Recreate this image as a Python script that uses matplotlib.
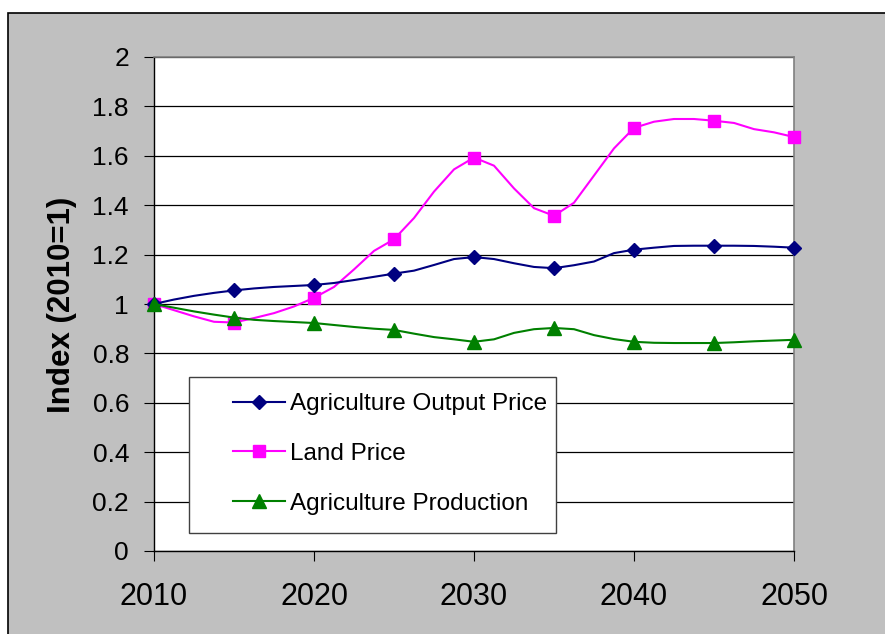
import matplotlib
matplotlib.use("Agg")
import matplotlib.pyplot as plt
from matplotlib.patches import Rectangle

plt.rcParams['font.family'] = ['Liberation Sans', 'DejaVu Sans']

# line vertices (Excel smoothed line, 4 segments per 5-year step), markers every 5 years
years = [2010, 2011.25, 2012.5, 2013.75, 2015, 2016.25, 2017.5, 2018.75,
         2020, 2021.25, 2022.5, 2023.75, 2025, 2026.25, 2027.5, 2028.75,
         2030, 2031.25, 2032.5, 2033.75, 2035, 2036.25, 2037.5, 2038.75,
         2040, 2041.25, 2042.5, 2043.75, 2045, 2046.25, 2047.5, 2048.75, 2050]

output_price = [1.000, 1.018, 1.033, 1.045, 1.055, 1.063, 1.069, 1.073,
                1.077, 1.085, 1.097, 1.110, 1.123, 1.135, 1.158, 1.182,
                1.190, 1.182, 1.165, 1.150, 1.145, 1.157, 1.172, 1.206,
                1.220, 1.228, 1.235, 1.236, 1.236, 1.236, 1.235, 1.232, 1.228]

land_price = [1.000, 0.975, 0.950, 0.928, 0.925, 0.943, 0.963, 0.990,
              1.025, 1.069, 1.140, 1.215, 1.262, 1.348, 1.455, 1.545,
              1.593, 1.560, 1.468, 1.388, 1.357, 1.410, 1.520, 1.630,
              1.713, 1.738, 1.749, 1.749, 1.742, 1.733, 1.708, 1.695, 1.676]

production = [1.000, 0.985, 0.970, 0.957, 0.945, 0.936, 0.931, 0.927,
              0.923, 0.915, 0.907, 0.900, 0.895, 0.880, 0.866, 0.857,
              0.847, 0.857, 0.883, 0.898, 0.903, 0.898, 0.874, 0.858,
              0.847, 0.843, 0.842, 0.842, 0.842, 0.845, 0.849, 0.852, 0.855]

labels = ["Agriculture Output Price", "Land Price", "Agriculture Production"]

W, H = 885, 634
fig = plt.figure(figsize=(W / 100, H / 100), dpi=100)
fig.patch.set_facecolor("white")
fig.patches.append(Rectangle((8 / W, -0.01), 1.0, 1 - 13 / H + 0.01,
                             transform=fig.transFigure, facecolor="#C0C0C0",
                             edgecolor="black", linewidth=1.2, zorder=-1))

ax = fig.add_axes([154 / W, 1 - 551 / H, 640 / W, 494 / H])
ax.set_facecolor("white")

ax.plot(years, output_price, color="#000080", lw=1.5, marker="D", ms=7.5,
        markevery=4, label=labels[0], clip_on=False, zorder=4)
ax.plot(years, land_price, color="#FF00FF", lw=1.5, marker="s", ms=8,
        markevery=4, label=labels[1], clip_on=False, zorder=3)
ax.plot(years, production, color="#008000", lw=1.5, marker="^", ms=9.5,
        markevery=4, label=labels[2], clip_on=False, zorder=5)

ax.set_xlim(2010, 2050)
ax.set_ylim(0, 2)
ax.set_xticks([2010, 2020, 2030, 2040, 2050])
ax.set_yticks([0, 0.2, 0.4, 0.6, 0.8, 1, 1.2, 1.4, 1.6, 1.8, 2])
ax.set_yticklabels(["0", "0.2", "0.4", "0.6", "0.8", "1", "1.2", "1.4", "1.6", "1.8", "2"])
ax.yaxis.grid(True, color="black", lw=0.9)
ax.set_axisbelow(True)

ax.tick_params(axis="y", direction="out", length=7, width=0.8, pad=11, labelsize=19)
ax.tick_params(axis="x", direction="out", length=7, width=0.8, pad=15, labelsize=22)
for s in ["left", "bottom"]:
    ax.spines[s].set_color("black")
    ax.spines[s].set_linewidth(1.0)
for s in ["top", "right"]:
    ax.spines[s].set_color("#808080")
    ax.spines[s].set_linewidth(1.2)

ax.set_ylabel("Index (2010=1)", fontsize=22.5, fontweight="bold")
ax.yaxis.set_label_coords(-0.12, 0.498)

# legend box
x0, x1 = (189 - 154) / 640, (556 - 154) / 640
y0, y1 = (551 - 533) / 494, (551 - 377) / 494
ax.add_patch(Rectangle((x0, y0), x1 - x0, y1 - y0, transform=ax.transAxes,
                       facecolor="white", edgecolor="#404040", lw=1.0, zorder=6))
leg = ax.legend(loc="upper left", bbox_to_anchor=((233 - 154) / 640, (551 - 393) / 494),
                frameon=False, fontsize=17.5, handlelength=2.15, handletextpad=0.2,
                labelspacing=1.15, borderpad=0, borderaxespad=0)
leg.set_zorder(7)

fig.savefig("out.png", dpi=100, facecolor=fig.get_facecolor())
